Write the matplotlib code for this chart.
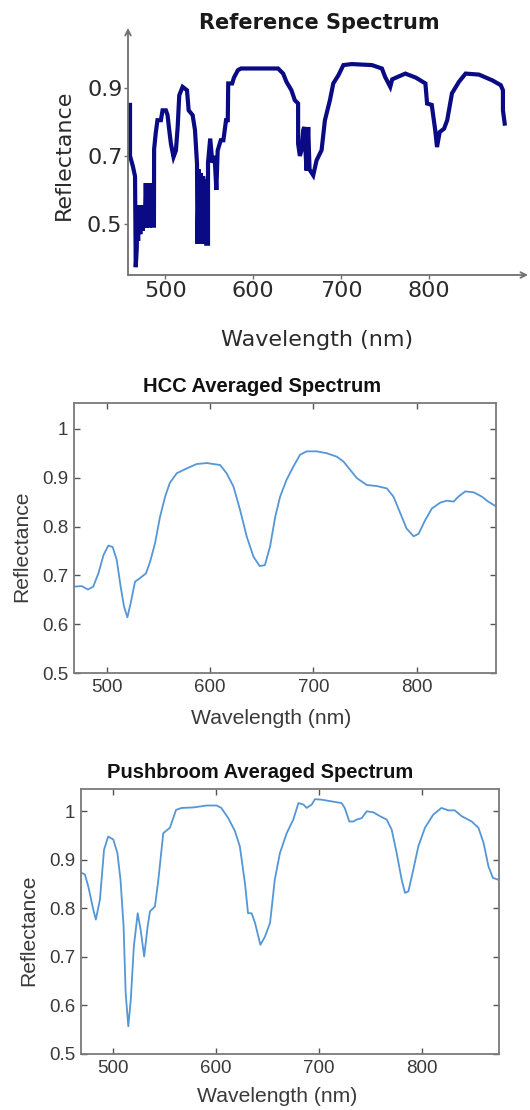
import numpy as np
import matplotlib
matplotlib.use("Agg")
import matplotlib.pyplot as plt

# reference spectrum (step-like)
ref_wl = [457.5, 459.8, 459.8, 463.0, 465.5, 466.3, 467.5, 468.0, 469.0, 470.0, 471.5, 472.5, 474.0,
          475.0, 476.5, 477.7, 479.0, 480.5, 482.0, 483.5, 485.0, 487.0, 487.2, 489.0, 491.0, 494.9,
          496.8, 500.6, 502.5, 504.4, 506.3, 509.3, 512.0, 514.0, 515.8, 519.6, 524.6, 526.5, 531.0,
          533.7, 536.0, 536.5, 538.0, 539.0, 540.5, 541.5, 543.0, 544.0, 545.5, 546.5, 548.5, 548.5,
          551.0, 553.5, 556.0, 558.0, 559.5, 563.0, 566.0, 569.0, 571.0, 571.5, 576.0, 578.0, 582.5,
          586.0, 628.2, 634.0, 637.7, 643.4, 647.2, 651.0, 651.0, 653.0, 654.9, 656.8, 658.0, 660.6,
          662.5, 664.0, 668.2, 672.0, 677.7, 681.5, 687.2, 691.0, 696.8, 702.5, 712.0, 734.9, 746.3,
          750.0, 755.8, 758.0, 764.0, 773.0, 785.0, 795.8, 797.7, 803.0, 807.0, 809.0, 812.0, 817.0,
          820.6, 826.0, 834.0, 841.5, 856.8, 872.0, 881.5, 884.0, 884.0, 886.0]
ref_refl = [0.85, 0.85, 0.70, 0.67, 0.64, 0.373, 0.43, 0.555, 0.45, 0.555, 0.47, 0.555, 0.48,
            0.555, 0.49, 0.62, 0.49, 0.62, 0.49, 0.62, 0.495, 0.495, 0.72, 0.766, 0.805, 0.805,
            0.834, 0.834, 0.82, 0.776, 0.736, 0.697, 0.716, 0.785, 0.878, 0.903, 0.893, 0.834, 0.82,
            0.776, 0.677, 0.442, 0.66, 0.442, 0.65, 0.442, 0.64, 0.442, 0.63, 0.442, 0.442, 0.68,
            0.751, 0.68, 0.70, 0.60, 0.716, 0.746, 0.746, 0.805, 0.805, 0.913, 0.913, 0.93, 0.952,
            0.957, 0.957, 0.942, 0.918, 0.893, 0.864, 0.854, 0.736, 0.70, 0.717, 0.776, 0.785, 0.657,
            0.785, 0.66, 0.643, 0.687, 0.717, 0.805, 0.864, 0.913, 0.937, 0.967, 0.97, 0.967, 0.957,
            0.932, 0.903, 0.925, 0.932, 0.942, 0.93, 0.913, 0.854, 0.85, 0.775, 0.726, 0.77, 0.78,
            0.805, 0.884, 0.918, 0.942, 0.939, 0.922, 0.908, 0.893, 0.834, 0.795]

# HCC averaged spectrum
hcc_wl = [469.4, 475.8, 482.0, 487.0, 492.0, 497.0, 501.6, 505.8, 509.7, 513.5, 516.8, 520.0, 523.2,
          527.4, 532.0, 538.0, 542.0, 546.8, 551.6, 556.5, 561.0, 567.7, 577.4, 587.0, 596.8, 609.7,
          616.0, 622.6, 629.0, 635.5, 642.0, 648.0, 653.0, 658.0, 663.0, 667.7, 674.0, 680.6, 687.0,
          693.5, 703.0, 713.0, 722.6, 729.0, 735.5, 742.0, 751.6, 761.0, 771.0, 777.4, 784.0, 790.0,
          796.8, 801.6, 808.0, 814.5, 822.6, 829.0, 835.5, 840.0, 846.8, 855.0, 863.0, 869.0, 876.0,
          878.0]
hcc_refl = [0.677, 0.678, 0.671, 0.677, 0.704, 0.742, 0.761, 0.758, 0.732, 0.677, 0.636, 0.614, 0.643,
            0.687, 0.694, 0.704, 0.728, 0.766, 0.82, 0.861, 0.889, 0.909, 0.919, 0.928, 0.93, 0.926,
            0.909, 0.882, 0.834, 0.779, 0.738, 0.719, 0.721, 0.759, 0.82, 0.861, 0.896, 0.923, 0.947,
            0.954, 0.954, 0.95, 0.943, 0.933, 0.916, 0.899, 0.885, 0.883, 0.878, 0.861, 0.827, 0.796,
            0.78, 0.785, 0.813, 0.837, 0.849, 0.853, 0.851, 0.861, 0.872, 0.87, 0.861, 0.851, 0.842,
            0.840]

# pushbroom averaged spectrum
pb_wl = [469.2, 472.4, 475.7, 480.6, 483.0, 487.0, 491.0, 495.0, 500.0, 504.0, 507.0, 510.0, 512.0,
         514.6, 517.0, 520.0, 523.7, 526.6, 530.0, 533.4, 535.7, 540.5, 543.8, 548.6, 555.0, 561.0,
         566.5, 577.8, 590.8, 600.5, 605.0, 611.8, 618.3, 623.0, 628.0, 631.0, 634.5, 637.8, 643.0,
         647.5, 652.4, 657.0, 662.0, 668.6, 675.0, 680.0, 684.8, 688.0, 693.0, 696.0, 702.6, 710.7,
         722.0, 725.0, 729.5, 733.4, 736.6, 741.5, 746.4, 752.8, 759.3, 765.8, 770.7, 775.5, 780.4,
         783.6, 786.9, 791.7, 796.6, 803.0, 811.0, 819.0, 825.8, 832.0, 838.7, 848.5, 855.0, 860.0,
         864.7, 869.0, 874.4, 876.0]
pb_refl = [0.873, 0.87, 0.845, 0.797, 0.777, 0.818, 0.921, 0.948, 0.942, 0.914, 0.859, 0.763, 0.626,
           0.557, 0.612, 0.722, 0.79, 0.756, 0.701, 0.763, 0.794, 0.804, 0.859, 0.955, 0.966, 1.003,
           1.007, 1.008, 1.012, 1.012, 1.007, 0.986, 0.959, 0.928, 0.852, 0.79, 0.79, 0.77, 0.725,
           0.742, 0.77, 0.859, 0.914, 0.955, 0.983, 1.017, 1.014, 1.007, 1.014, 1.025, 1.024, 1.021,
           1.017, 1.007, 0.979, 0.979, 0.983, 0.986, 1.0, 0.998, 0.99, 0.983, 0.962, 0.914, 0.859,
           0.832, 0.835, 0.88, 0.928, 0.966, 0.993, 1.007, 1.002, 1.002, 0.99, 0.979, 0.966, 0.935,
           0.887, 0.863, 0.859, 0.859]

W, H = 530, 1110
fig = plt.figure(figsize=(W / 100, H / 100), dpi=100)
fig.patch.set_facecolor("white")


def box(l, t, r, b):
    # pixel box -> figure fraction
    return [l / W, 1 - b / H, (r - l) / W, (b - t) / H]


def px(x, y):
    return x / W, 1 - y / H


# ---- top: reference spectrum ----
ax1 = fig.add_axes(box(128, 28, 528, 275))
ax1.plot(ref_wl, ref_refl, color="#0a0a85", lw=3.0, solid_joinstyle="miter")
ax1.set_xlim(457.5, 912.5)
ax1.set_ylim(0.35, 1.076)
for s in ax1.spines.values():
    s.set_visible(False)
gray = "#707070"
ax1.annotate("", xy=(1, 0), xytext=(0, 0), xycoords="axes fraction",
             arrowprops=dict(arrowstyle="->", color=gray, lw=1.3, shrinkA=0, shrinkB=0))
ax1.annotate("", xy=(0, 1), xytext=(0, 0), xycoords="axes fraction",
             arrowprops=dict(arrowstyle="->", color=gray, lw=1.3, shrinkA=0, shrinkB=0))
ax1.set_xticks([500, 600, 700, 800])
ax1.set_yticks([0.5, 0.7, 0.9])
ax1.set_yticklabels(["0.5", "0.7", "0.9"])
ax1.tick_params(direction="out", length=3, width=1, color=gray, labelcolor="#2a2a2a",
                labelsize=16, pad=1)
fig.text(*px(319, 23), "Reference Spectrum", ha="center", va="center",
         fontsize=15, fontweight="bold", color="#1a1a1a")
fig.text(*px(317, 340), "Wavelength (nm)", ha="center", va="center", fontsize=16, color="#2a2a2a")
fig.text(*px(64, 155), "Reflectance", ha="center", va="center", rotation=90,
         fontsize=16, color="#2a2a2a")

# ---- MATLAB-style panels ----
font = ["Liberation Sans", "DejaVu Sans"]
blue = "#5596d6"


def matlab_panel(rect, wl, refl, xlim, ylim, title, tpos, xlpos, ylpos):
    ax = fig.add_axes(rect)
    ax.plot(wl, refl, color=blue, lw=1.3)
    ax.set_xlim(*xlim)
    ax.set_ylim(*ylim)
    ax.set_xticks([500, 600, 700, 800])
    ax.set_yticks([0.5, 0.6, 0.7, 0.8, 0.9, 1.0])
    ax.set_yticklabels(["0.5", "0.6", "0.7", "0.8", "0.9", "1"])
    for s in ax.spines.values():
        s.set_color("#7a7a7a")
        s.set_linewidth(1.3)
    ax.tick_params(direction="in", length=4, width=1, color="#555555", labelcolor="#3a3a3a",
                   top=True, right=True, labelsize=13.5, pad=4)
    for lab in ax.get_xticklabels() + ax.get_yticklabels():
        lab.set_family(font)
    fig.text(*px(*tpos), title, ha="center", va="center", fontsize=14.5,
             fontweight="bold", family=font, color="#111111")
    fig.text(*px(*xlpos), "Wavelength (nm)", ha="center", va="center", fontsize=15.2,
             family=font, color="#3a3a3a")
    fig.text(*px(*ylpos), "Reflectance", ha="center", va="center", rotation=90,
             fontsize=15.2, family=font, color="#3a3a3a")
    return ax


ax2 = matlab_panel(box(74, 403, 496, 673), hcc_wl, hcc_refl, (468.4, 876.5), (0.5, 1.053),
                   "HCC Averaged Spectrum", (262, 387), (271, 718), (22, 546))
ax3 = matlab_panel(box(81, 789, 499, 1054), pb_wl, pb_refl, (468.6, 875), (0.5, 1.046),
                   "Pushbroom Averaged Spectrum", (260, 772), (277, 1097), (29, 930))

fig.savefig("out.png", dpi=100)
